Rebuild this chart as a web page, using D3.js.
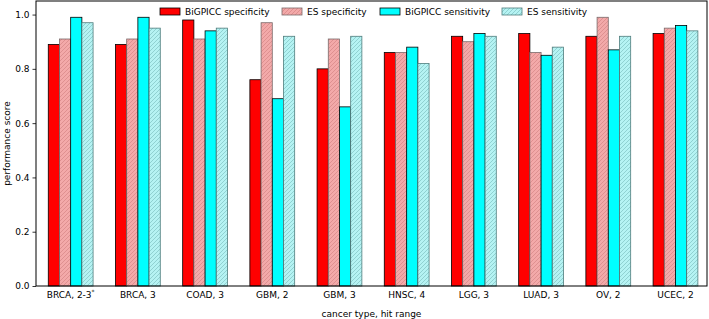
<!DOCTYPE html>
<html>
<head>
<meta charset="utf-8">
<script src="https://cdn.jsdelivr.net/npm/d3@7"></script>
<style>
  body { margin: 0; background: #fff; }
  text { font-family: "DejaVu Sans", sans-serif; }
</style>
</head>
<body>
<div id="chart"></div>
<script>
// Data
var categories = ["BRCA, 2-3", "BRCA, 3", "COAD, 3", "GBM, 2", "GBM, 3", "HNSC, 4", "LGG, 3", "LUAD, 3", "OV, 2", "UCEC, 2"];
var seriesNames = ["BiGPICC specificity", "ES specificity", "BiGPICC sensitivity", "ES sensitivity"];
var bigpiccSpec = [0.89, 0.89, 0.98, 0.76, 0.80, 0.86, 0.92, 0.93, 0.92, 0.93];
var esSpec      = [0.91, 0.91, 0.91, 0.97, 0.91, 0.86, 0.90, 0.86, 0.99, 0.95];
var bigpiccSens = [0.99, 0.99, 0.94, 0.69, 0.66, 0.88, 0.93, 0.85, 0.87, 0.96];
var esSens      = [0.97, 0.95, 0.95, 0.92, 0.92, 0.82, 0.92, 0.88, 0.92, 0.94];
var yTicks = [0.0, 0.2, 0.4, 0.6, 0.8, 1.0];

var series = [bigpiccSpec, esSpec, bigpiccSens, esSens];

// Layout
var width = 709, height = 319;
var margin = {top: 1, right: 2, bottom: 33, left: 36};
var plotW = width - margin.left - margin.right;
var plotH = height - margin.top - margin.bottom;

var svg = d3.select("#chart").append("svg")
    .attr("width", width)
    .attr("height", height);

// Hatch patterns
var defs = svg.append("defs");
function hatch(id, bg, line) {
  var p = defs.append("pattern")
      .attr("id", id)
      .attr("patternUnits", "userSpaceOnUse")
      .attr("width", 4)
      .attr("height", 4);
  p.append("rect").attr("width", 4).attr("height", 4).attr("fill", bg);
  p.append("path")
      .attr("d", "M-1,1 l2,-2 M0,4 l4,-4 M3,5 l2,-2")
      .attr("stroke", line)
      .attr("stroke-width", 0.8);
}
hatch("hatchPink", "#f3a9a9", "#d88a8a");
hatch("hatchCyan", "#b5f3f3", "#86c8c8");

var fills = ["#ff0000", "url(#hatchPink)", "#00ffff", "url(#hatchCyan)"];
var strokes = ["#000", "#7a6a6a", "#000", "#4f7d7d"];

var g = svg.append("g")
    .attr("transform", "translate(" + margin.left + "," + margin.top + ")");

// Scales
var x = d3.scaleLinear().domain([-0.516, categories.length - 0.531]).range([0, plotW]);
var y = d3.scaleLinear().domain([0, 1.05]).range([plotH, 0]);
var barW = 1 / 6;

// Bars
series.forEach(function(vals, k) {
  g.selectAll(".bar" + k)
    .data(vals)
    .enter().append("rect")
    .attr("class", "bar" + k)
    .attr("x", function(d, i) { return x(i + (k - 2) * barW); })
    .attr("y", function(d) { return y(d); })
    .attr("width", x(barW) - x(0))
    .attr("height", function(d) { return plotH - y(d); })
    .attr("fill", fills[k])
    .attr("stroke", strokes[k])
    .attr("stroke-width", 0.8);
});

// Axes
var yAxis = d3.axisLeft(y).tickValues(yTicks).tickFormat(d3.format(".1f")).tickSizeOuter(0).tickSize(3.5).tickPadding(3);
var yg = g.append("g").call(yAxis);
var xAxis = d3.axisBottom(x).tickValues(d3.range(categories.length)).tickFormat("").tickSize(0);
var xg = g.append("g").attr("transform", "translate(0," + plotH + ")").call(xAxis);

[yg, xg].forEach(function(a) {
  a.select(".domain").remove();
  a.selectAll("line").attr("stroke", "#000").attr("stroke-width", 0.8);
  a.selectAll("text").attr("font-size", 9).attr("fill", "#000")
    .style("font-family", "DejaVu Sans, sans-serif");
});

// x tick labels (first one has a superscript star)
categories.forEach(function(c, i) {
  var t = g.append("text")
      .attr("x", x(i))
      .attr("y", plotH + 12)
      .attr("text-anchor", "middle")
      .attr("font-size", 9)
      .text(c);
  if (i === 0) {
    t.append("tspan").attr("dy", -4).attr("font-size", 6).text("*");
  }
});

// Frame
g.append("rect")
    .attr("width", plotW)
    .attr("height", plotH)
    .attr("fill", "none")
    .attr("stroke", "#000")
    .attr("stroke-width", 1);

// Axis titles
svg.append("text")
    .attr("transform", "translate(10," + (margin.top + plotH / 2) + ") rotate(-90)")
    .attr("text-anchor", "middle")
    .attr("font-size", 9)
    .text("performance score");

svg.append("text")
    .attr("x", margin.left + plotW / 2)
    .attr("y", 317)
    .attr("text-anchor", "middle")
    .attr("font-size", 9)
    .text("cancer type, hit range");

// Legend
var legendX = [160, 282, 380, 502];
var legend = svg.selectAll(".legend")
    .data(seriesNames)
    .enter().append("g")
    .attr("class", "legend")
    .attr("transform", function(d, i) { return "translate(" + legendX[i] + ",8)"; });

legend.append("rect")
    .attr("width", 20)
    .attr("height", 7)
    .attr("fill", function(d, i) { return fills[i]; })
    .attr("stroke", function(d, i) { return strokes[i]; })
    .attr("stroke-width", 0.8);

legend.append("text")
    .attr("x", 25)
    .attr("y", 7)
    .attr("font-size", 9)
    .text(function(d) { return d; });
</script>
</body>
</html>
